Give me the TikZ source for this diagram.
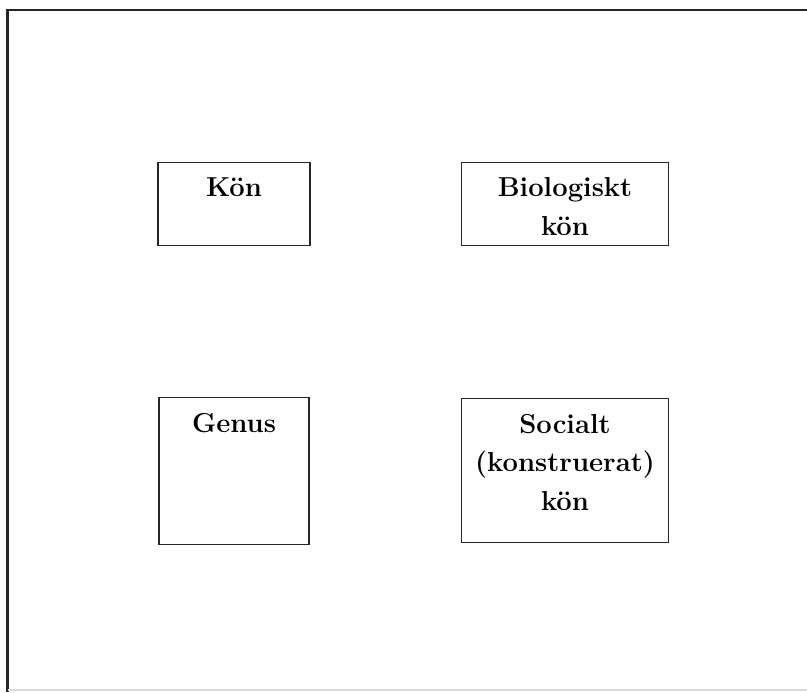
\documentclass[tikz,border=0pt]{standalone}
\usepackage{xcolor}
\usepackage{tikz}
\usetikzlibrary{positioning,calc}

\begin{document}
\begin{tikzpicture}[
			x = 0.025cm,
			y = -0.025cm,
			box/.style = {draw=black!85, line width=0.9pt, minimum height=2.075cm, inner sep=0pt},
			boxtext/.style = {anchor=north, align=center, inner sep=0pt,
				font=\fontsize{19.5}{27.7}\selectfont\bfseries},
			]

			\def\lx{234}
			\def\rx{565}
			\def\drop{0.39cm}

			\useasboundingbox (0,0) rectangle (807,692);

			% ram
			\draw[line width=1.7pt,black!85] (807,10) -- (7.5,10) -- (7.5,692);
			\draw[line width=0.8pt,black!15] (7.5,690) -- (807,690);

			\node[box,minimum width=3.8cm,anchor=north] (kon) at (\lx,162) {};
			\node[box,minimum width=5.175cm,anchor=north] (bio) at (\rx,162) {};
			\node[box,minimum width=3.75cm,minimum height=3.675cm,anchor=north] (genus) at (\lx,397) {};
			\node[box,minimum width=5.175cm,minimum height=3.6cm,anchor=north] (soc) at (\rx,398) {};

			\node[boxtext] (kontext) at ($(kon.north)+(0,-\drop)$) {Kön};
			\node[boxtext] (biotext) at ($(bio.north)+(0,-\drop)$) {Biologiskt\\kön};
			\node[boxtext] (genustext) at ($(genus.north)+(0,-\drop)$) {Genus};
			\node[boxtext] (soctext) at ($(soc.north)+(0,-\drop)$) {Socialt\\(konstruerat)\\kön};

		\end{tikzpicture}
\end{document}
